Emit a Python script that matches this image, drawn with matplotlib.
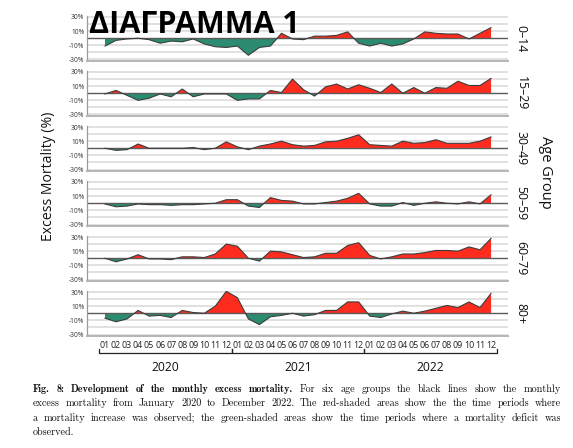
import numpy as np
import matplotlib
matplotlib.use('Agg')
from matplotlib import pyplot as plt
from matplotlib import transforms as mtransforms

# Monthly excess mortality (%) Jan 2020 .. Dec 2022
age_groups = ['0–14', '15–29', '30–49', '50–59', '60–79', '80+']
months = ['01', '02', '03', '04', '05', '06', '07', '08', '09', '10', '11', '12'] * 3
years = ['2020', '2021', '2022']

em_0_14 = [-11, -3, -1, 0, -2, -7, -4, -5, -1, -8, -12, -13,
           -11, -24, -13, -11, 7, -1, -2, 3, 3, 4, 9, -7,
           -11, -7, -11, -8, -1, 9, 7, 6, 6, -1, 7, 15]
em_15_29 = [-1, 4, -3, -10, -7, -1, -5, 6, -5, -1, -1, -1,
            -10, -8, -8, 4, 1, 20, 5, -4, 9, 13, 6, 12,
            7, 1, 13, 0, 8, 0, 8, 7, 17, 11, 11, 21]
em_30_49 = [0, -3, -2, 6, 0, 0, 0, 0, 1, -2, 0, 9,
            2, -2, 3, 6, 10, 5, 3, 4, 9, 10, 14, 19,
            5, 4, 3, 10, 7, 8, 12, 7, 7, 7, 10, 16]
em_50_59 = [-1, -5, -4, -1, -2, -2, -3, -2, -2, -1, 0, 5,
            5, -4, -6, 8, 4, 3, -1, -1, 1, 3, 7, 14,
            -1, -4, -4, 1, -3, 0, 2, 0, -1, 2, -1, 12]
em_60_79 = [0, -5, -1, 5, -1, -1, -2, 2, 2, 1, 6, 20,
            17, 0, -4, 10, 9, 5, 1, 2, 7, 7, 18, 22,
            4, -1, 2, 6, 6, 8, 11, 11, 10, 16, 12, 28]
em_80 = [-7, -12, -8, 4, -4, -3, -6, 4, 1, 0, 10, 31,
         22, -8, -16, -5, -3, 0, -4, -2, 4, 4, 16, 16,
         -4, -6, -1, 3, 0, 3, 7, 11, 8, 16, 8, 28]
series = [em_0_14, em_15_29, em_30_49, em_50_59, em_60_79, em_80]

caption_lines = [
    [("Fig. 8: Development of the monthly excess mortality.", True),
     ("For six age groups the black lines show the monthly", False)],
    [("excess mortality from January 2020 to December 2022.  The red-shaded areas show the the time periods where", False)],
    [("a mortality increase was observed; the green-shaded areas show the time periods where a mortality deficit was", False)],
    [("observed.", False)],
]

RED = '#fd2c1e'
GREEN = '#2b8c71'
W, H = 573, 448

plt.rcParams['font.family'] = ['Open Sans', 'DejaVu Sans']
fig = plt.figure(figsize=(W / 100, H / 100), dpi=100)
fig.patch.set_facecolor('white')

# layout in pixels (measured on the reference)
x_left, x_right = 87, 508
x_first, x_step = 105, 11.03
px_per = 42.5 / 60
top30 = [17 + 55 * k for k in range(6)]
ylo, yhi = -32, 31.5

x = np.arange(len(months))
xlim = (-(x_first - x_left) / x_step, 35 + (x_right - (x_first + 35 * x_step)) / x_step)

axes = []
for k, vals in enumerate(series):
    t_px = top30[k] - (yhi - 30) * px_per
    b_px = top30[k] + (30 - ylo) * px_per
    ax = fig.add_axes([x_left / W, 1 - b_px / H, (x_right - x_left) / W, (b_px - t_px) / H])
    axes.append(ax)
    y = np.array(vals, dtype=float)
    ax.fill_between(x, 0, y, where=y >= 0, interpolate=True, color=RED, lw=0, zorder=2)
    ax.fill_between(x, 0, y, where=y <= 0, interpolate=True, color=GREEN, lw=0, zorder=2)
    ax.plot(x, y, color='#3c3c3c', lw=0.8, zorder=3)
    for g in [30, 20, 10, -10, -20, -30]:
        ax.axhline(g, color='#d9d9d9', lw=1.1, zorder=1)
    ax.axhline(0, color='#5a5a5a', lw=1.0, zorder=2.5)
    ax.set_xlim(*xlim)
    ax.set_ylim(ylo, yhi)
    ax.set_yticks([30, 10, -10, -30])
    ax.set_yticklabels(['30%', '10%', '-10%', '-30%'])
    ax.tick_params(axis='y', length=0, labelsize=4.8, labelcolor='#333333', pad=2)
    for s in ['top', 'right']:
        ax.spines[s].set_visible(False)
    ax.spines['left'].set_color('#9a9a9a')
    ax.spines['left'].set_linewidth(0.9)
    ax.spines['bottom'].set_color('#b5b5b5')
    ax.spines['bottom'].set_linewidth(1.4)
    ax.set_facecolor('none')
    if k < 5:
        ax.set_xticks([])
    else:
        ax.set_xticks(x)
        ax.set_xticklabels(months)
        ax.tick_params(axis='x', length=0, labelsize=6.4, pad=4, labelcolor='#222222')
    # age group label on the right, centred on the zero line
    zero_px = top30[k] + 30 * px_per
    fig.text(521 / W, 1 - zero_px / H, age_groups[k], rotation=-90,
             ha='center', va='center', fontsize=8.8, color='#111111')

# year brackets below the month labels
axb = axes[-1]
trans = mtransforms.blended_transform_factory(axb.transData, fig.transFigure)
yb = 1 - 353 / H
ytick = 1 - 348.5 / H
for i, yr in enumerate(years):
    a, b = 12 * i - 0.5, 12 * i + 11.5
    axb.plot([a, a, b, b], [ytick, yb, yb, ytick], color='#222222', lw=0.9,
             transform=trans, clip_on=False)
    axb.text(12 * i + 5.5, 1 - 367 / H, yr, transform=trans, ha='center', va='center',
             fontsize=8.7, color='#111111')

fig.text(48 / W, 1 - 176 / H, 'Excess Mortality (%)', rotation=90,
         ha='center', va='center', fontsize=10.1, color='#111111')
fig.text(546 / W, 1 - 172 / H, 'Age Group', rotation=-90,
         ha='center', va='center', fontsize=10.5, color='#111111')

fig.text(89 / W, 1 - 33 / H, 'ΔΙΑΓΡΑΜΜΑ 1', fontsize=22, fontweight='bold',
         ha='left', va='baseline', color='black')

# caption, justified word by word
fig.canvas.draw()
renderer = fig.canvas.get_renderer()
cap_left, cap_right = 33, 561
cap_y = [389, 403, 418, 432]
for li, parts in enumerate(caption_lines):
    words = []
    for txt, bold in parts:
        for w in txt.split():
            t = fig.text(0, 0, w, fontsize=7.3, family='cmb10' if bold else 'cmr10',
                         ha='left', va='center', color='#111111')
            words.append(t)
    widths = [t.get_window_extent(renderer).width for t in words]
    if li == len(caption_lines) - 1 or len(words) == 1:
        gap = 3.0
    else:
        gap = (cap_right - cap_left - sum(widths)) / (len(words) - 1)
    xpos = cap_left
    for t, w in zip(words, widths):
        t.set_position((xpos / W, 1 - cap_y[li] / H))
        xpos += w + gap

fig.savefig('out.png', dpi=100, facecolor='white')
